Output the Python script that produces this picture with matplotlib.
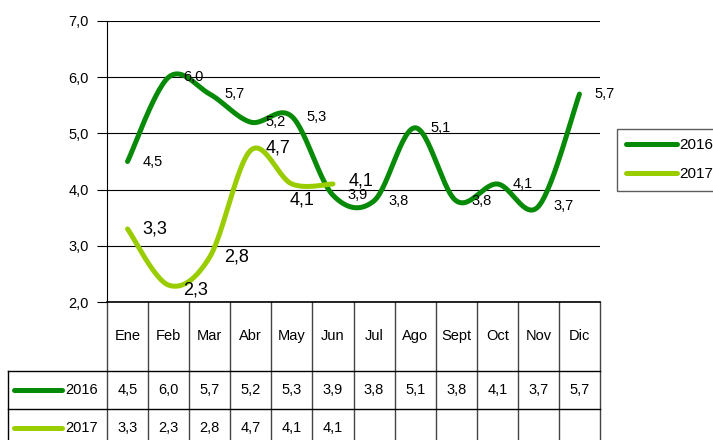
import numpy as np
import matplotlib
matplotlib.use("Agg")
import matplotlib.pyplot as plt
from matplotlib.lines import Line2D

plt.rcParams['font.family'] = ['Liberation Sans Narrow', 'Liberation Sans', 'DejaVu Sans']

months = ['Ene', 'Feb', 'Mar', 'Abr', 'May', 'Jun', 'Jul', 'Ago', 'Sept', 'Oct', 'Nov', 'Dic']
vals_2016 = [4.5, 6.0, 5.7, 5.2, 5.3, 3.9, 3.8, 5.1, 3.8, 4.1, 3.7, 5.7]
vals_2017 = [3.3, 2.3, 2.8, 4.7, 4.1, 4.1]
color_2016 = '#078a07'
color_2017 = '#9acd00'

# label offsets in pixels (dx, dy) for each data label
off_2016 = [(25, 0)] * 12
off_2017 = [(27, 0), (27, -5), (27, 0), (27, 2), (10, -16), (28, 3)]


def fmt(v):
    return ('%.1f' % v).replace('.', ',')


def smooth(y, n=30):
    # catmull-rom style smoothing, close to excel "smoothed line"
    y = np.asarray(y, float)
    x = np.arange(len(y), dtype=float)
    px = np.concatenate([[x[0]], x, [x[-1]]])
    py = np.concatenate([[y[0]], y, [y[-1]]])
    xs, ys = [], []
    for i in range(1, len(px) - 2):
        p0, p1, p2, p3 = py[i - 1], py[i], py[i + 1], py[i + 2]
        q0, q1, q2, q3 = px[i - 1], px[i], px[i + 1], px[i + 2]
        t = np.linspace(0, 1, n)
        c1y, c2y = p1 + (p2 - p0) / 6, p2 - (p3 - p1) / 6
        c1x, c2x = q1 + (q2 - q0) / 6, q2 - (q3 - q1) / 6
        bx = (1-t)**3*q1 + 3*(1-t)**2*t*c1x + 3*(1-t)*t**2*c2x + t**3*q2
        by = (1-t)**3*p1 + 3*(1-t)**2*t*c1y + 3*(1-t)*t**2*c2y + t**3*p2
        xs.append(bx)
        ys.append(by)
    return np.concatenate(xs), np.concatenate(ys)


W, H = 713, 440
fig = plt.figure(figsize=(W / 100, H / 100), dpi=100)
L, R, T, B = 107, 600, 21, 302
ax = fig.add_axes([L / W, 1 - B / H, (R - L) / W, (B - T) / H])

sx, sy = smooth(vals_2016)
ax.plot(sx, sy, color=color_2016, lw=3.6, solid_capstyle='round', zorder=3)
sx, sy = smooth(vals_2017)
ax.plot(sx, sy, color=color_2017, lw=3.6, solid_capstyle='round', zorder=3)

for i, v in enumerate(vals_2016):
    ax.annotate(fmt(v), (i, v), xytext=off_2016[i], textcoords='offset pixels',
                ha='center', va='center', fontsize=10.5, zorder=4, annotation_clip=False)
for i, v in enumerate(vals_2017):
    ax.annotate(fmt(v), (i, v), xytext=off_2017[i], textcoords='offset pixels',
                ha='center', va='center', fontsize=13, zorder=4, annotation_clip=False)

ax.set_xlim(-0.5, len(months) - 0.5)
ax.set_ylim(2, 7)
ax.set_yticks(np.arange(2, 7.1, 1))
ax.set_yticklabels([fmt(v) for v in np.arange(2, 7.1, 1)], fontsize=10.5)
ax.set_xticks([])
ax.tick_params(axis='y', length=7, width=0.8, pad=6, direction='out')
ax.grid(axis='y', color='black', lw=0.8)
for s in ['top', 'right']:
    ax.spines[s].set_visible(False)
ax.spines['left'].set_linewidth(0.8)
ax.spines['bottom'].set_linewidth(1.2)
ax.set_facecolor('white')

# data table below the axes
tr = ax.get_xaxis_transform()
ph = B - T
colw = (R - L) / len(months)
y_head = -(371 - B) / ph
y_r1 = -(409 - B) / ph
y_bot = -(H + 5 - B) / ph
for k in range(len(months) + 1):
    ax.plot([k - 0.5, k - 0.5], [0, y_bot], transform=tr, color='#444444', lw=1.0, clip_on=False)
x_left = -0.5 - (L - 8) / colw
ax.plot([x_left, len(months) - 0.5], [y_head, y_head], transform=tr, color='black', lw=1.0, clip_on=False)
ax.plot([x_left, len(months) - 0.5], [y_r1, y_r1], transform=tr, color='black', lw=1.0, clip_on=False)
ax.plot([x_left, x_left], [y_head, y_bot], transform=tr, color='black', lw=1.0, clip_on=False)

for i, m in enumerate(months):
    ax.text(i, -(336 - B) / ph, m, transform=tr, ha='center', va='center', fontsize=10.5)
    ax.text(i, -(390 - B) / ph, fmt(vals_2016[i]), transform=tr, ha='center', va='center', fontsize=10.5)
    if i < len(vals_2017):
        ax.text(i, -(428 - B) / ph, fmt(vals_2017[i]), transform=tr, ha='center', va='center', fontsize=10.5)

for yy, col, lab in [(390, color_2016, '2016'), (428, color_2017, '2017')]:
    fig.add_artist(Line2D([14 / W, 62 / W], [1 - yy / H, 1 - yy / H], color=col, lw=3.6,
                          solid_capstyle='round', transform=fig.transFigure))
    fig.text(65 / W, 1 - yy / H, lab, ha='left', va='center', fontsize=10.5)

handles = [Line2D([], [], color=color_2016, lw=3.6, solid_capstyle='round'),
           Line2D([], [], color=color_2017, lw=3.6, solid_capstyle='round')]
leg = fig.legend(handles, ['2016', '2017'], loc='upper left', bbox_to_anchor=(617 / W, 1 - 129 / H),
                 frameon=True, fancybox=False, edgecolor='#333333', fontsize=11,
                 handlelength=3.3, handletextpad=0.2, labelspacing=1.0, borderpad=0.6,
                 borderaxespad=0)
leg.get_frame().set_linewidth(1.0)

fig.savefig('out.png', dpi=100)
